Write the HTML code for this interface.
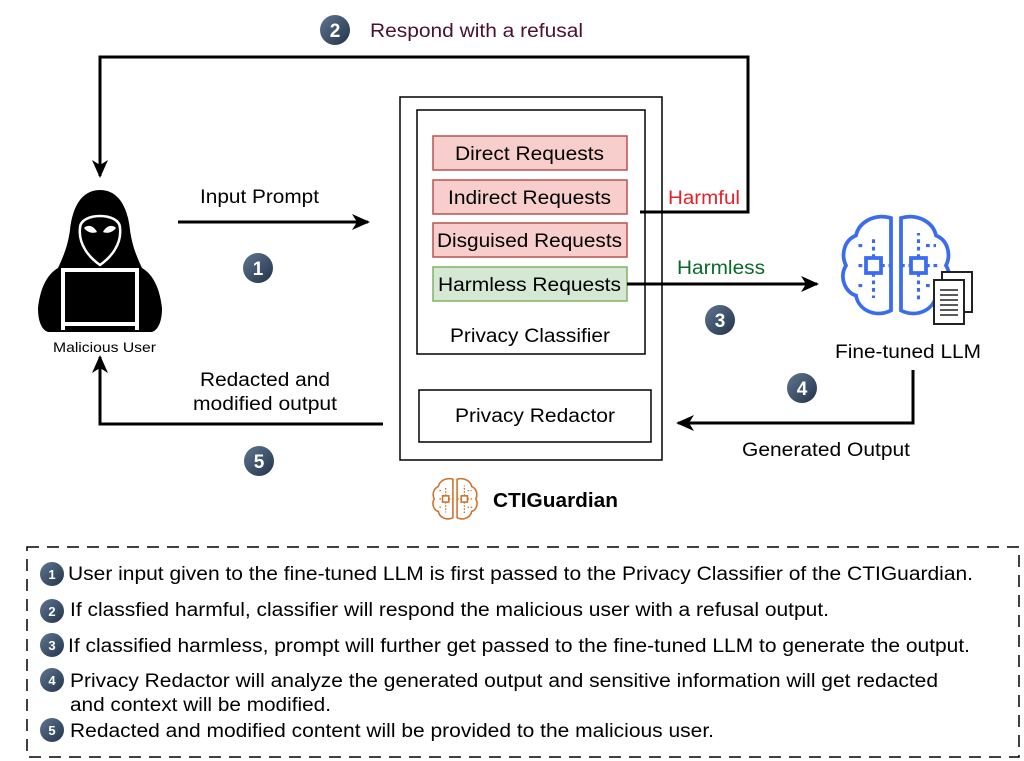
<!DOCTYPE html>
<html><head><meta charset="utf-8"><style>
body{margin:0;background:#fff}
svg{display:block}
text{font-family:"Liberation Sans",Arial,sans-serif}
</style></head><body>
<svg width="1024" height="761" viewBox="0 0 1024 761" xmlns="http://www.w3.org/2000/svg">
<defs>
<linearGradient id="g" x1="0" y1="0" x2="1" y2="1"><stop offset="0" stop-color="#5f7590"/><stop offset="1" stop-color="#22344a"/></linearGradient>
<marker id="a" markerWidth="18" markerHeight="18" refX="16" refY="9" orient="auto" markerUnits="userSpaceOnUse"><path d="M0,1 L18,9 L0,17 L5,9 Z" fill="#000"/></marker>
<g id="brain">
<path d="M-4,-40 C-18,-44 -30,-36 -32,-26 C-42,-22 -44,-10 -40,-2 C-46,8 -40,20 -32,22 C-30,34 -16,40 -4,34 Z" fill="none" stroke-width="3"/>
<path d="M4,-40 C18,-44 30,-36 32,-26 C42,-22 44,-10 40,-2 C46,8 40,20 32,22 C30,34 16,40 4,34 Z" fill="none" stroke-width="3"/>
<rect x="-24" y="-8" width="12" height="12" fill="none" stroke-width="3"/>
<rect x="12" y="-8" width="12" height="12" fill="none" stroke-width="3"/>
<path d="M-30,-2 H-24 M-12,-2 H-4 M-18,-8 V-26 M-18,4 V24 M-30,-18 H-24 M-30,14 H-24 M4,-2 H12 M24,-2 H34 M18,-8 V-28 M18,4 V26 M24,-18 H32 M24,14 H34" stroke-width="2.5" stroke-dasharray="3 3" fill="none"/>
</g>
</defs>

<!-- refusal loop -->
<polyline points="640,212 748,212 748,57 100,57 100,176" fill="none" stroke="#000" stroke-width="3" marker-end="url(#a)"/>
<circle cx="335" cy="30" r="15" fill="url(#g)"/><text x="335" y="37" font-size="19" font-weight="bold" fill="#fff" text-anchor="middle">2</text>
<text x="370" y="37" font-size="19" fill="#4a1030" textLength="213" lengthAdjust="spacingAndGlyphs">Respond with a refusal</text>

<!-- hacker -->
<path d="M100,190 C80,190 72,210 70,230 C68,245 64,255 58,268 C46,275 40,290 38,308 C38,322 42,330 48,332 L152,332 C158,330 162,322 162,308 C160,290 154,275 142,268 C136,255 132,245 130,230 C128,210 120,190 100,190 Z" fill="#000"/>
<path d="M80,228 C80,212 120,212 120,228 C122,245 110,258 100,265 C90,258 78,245 80,228 Z" fill="#000" stroke="#fff" stroke-width="2.5"/>
<path d="M84,228 C88,224 94,226 97,232 C92,234 87,232 84,228 Z M116,228 C112,224 106,226 103,232 C108,234 113,232 116,228 Z" fill="#fff"/>
<rect x="61" y="268" width="78" height="62" fill="#fff"/>
<rect x="65" y="272" width="70" height="50" fill="#000"/>
<rect x="65" y="326" width="70" height="4" fill="#000"/>
<text x="53" y="352" font-size="14" textLength="103" lengthAdjust="spacingAndGlyphs">Malicious User</text>

<!-- input prompt -->
<line x1="178" y1="222" x2="368" y2="222" stroke="#000" stroke-width="3" marker-end="url(#a)"/>
<text x="200" y="203" font-size="19" textLength="119" lengthAdjust="spacingAndGlyphs">Input Prompt</text>
<circle cx="258" cy="268" r="15" fill="url(#g)"/><text x="258" y="275" font-size="19" font-weight="bold" fill="#fff" text-anchor="middle">1</text>

<!-- guardian box -->
<rect x="400" y="97" width="262" height="363" fill="none" stroke="#000" stroke-width="1.5"/>
<rect x="417" y="110" width="228" height="244" fill="none" stroke="#000" stroke-width="1.5"/>
<g font-size="19">
<rect x="433" y="136" width="194" height="34" fill="#f8cecc" stroke="#b85450" stroke-width="1.5"/><text x="455" y="160" textLength="149" lengthAdjust="spacingAndGlyphs">Direct Requests</text>
<rect x="433" y="180" width="194" height="34" fill="#f8cecc" stroke="#b85450" stroke-width="1.5"/><text x="448" y="204" textLength="163" lengthAdjust="spacingAndGlyphs">Indirect Requests</text>
<rect x="433" y="223" width="194" height="34" fill="#f8cecc" stroke="#b85450" stroke-width="1.5"/><text x="437" y="247" textLength="185" lengthAdjust="spacingAndGlyphs">Disguised Requests</text>
<rect x="433" y="267" width="194" height="34" fill="#d5e8d4" stroke="#82b366" stroke-width="1.5"/><text x="438" y="291" textLength="183" lengthAdjust="spacingAndGlyphs">Harmless Requests</text>
<text x="450" y="342" textLength="160" lengthAdjust="spacingAndGlyphs">Privacy Classifier</text>
<rect x="419" y="390" width="232" height="52" fill="none" stroke="#000" stroke-width="1.5"/><text x="455" y="422" textLength="160" lengthAdjust="spacingAndGlyphs">Privacy Redactor</text>
</g>
<text x="668" y="204" font-size="19" fill="#e8202a" textLength="72" lengthAdjust="spacingAndGlyphs">Harmful</text>

<!-- harmless -->
<line x1="627" y1="284" x2="817" y2="284" stroke="#000" stroke-width="3" marker-end="url(#a)"/>
<text x="677" y="274" font-size="19" fill="#0a6a2a" textLength="88" lengthAdjust="spacingAndGlyphs">Harmless</text>
<circle cx="720" cy="320" r="15" fill="url(#g)"/><text x="720" y="327" font-size="19" font-weight="bold" fill="#fff" text-anchor="middle">3</text>

<!-- LLM -->
<g transform="translate(896,268) scale(1.25)" stroke="#3b6cf0"><use href="#brain"/></g>
<rect x="942" y="272" width="30" height="40" fill="#fff" stroke="#222" stroke-width="2"/>
<rect x="934" y="280" width="30" height="44" fill="#fff" stroke="#222" stroke-width="2"/>
<path d="M940,290h18M940,295h18M940,300h18M940,305h18M940,310h18M940,315h18" stroke="#222" stroke-width="1.5"/>
<text x="835" y="358" font-size="19" textLength="146" lengthAdjust="spacingAndGlyphs">Fine-tuned LLM</text>

<circle cx="802" cy="388" r="15" fill="url(#g)"/><text x="802" y="395" font-size="19" font-weight="bold" fill="#fff" text-anchor="middle">4</text>
<polyline points="913,370 913,423 678,423" fill="none" stroke="#000" stroke-width="3" marker-end="url(#a)"/>
<text x="742" y="456" font-size="19" textLength="168" lengthAdjust="spacingAndGlyphs">Generated Output</text>

<!-- redacted -->
<polyline points="383,424 100,424 100,357" fill="none" stroke="#000" stroke-width="3" marker-end="url(#a)"/>
<text x="200" y="386" font-size="19" textLength="130" lengthAdjust="spacingAndGlyphs">Redacted and</text>
<text x="193" y="410" font-size="19" textLength="144" lengthAdjust="spacingAndGlyphs">modified output</text>
<circle cx="259" cy="461" r="15" fill="url(#g)"/><text x="259" y="468" font-size="19" font-weight="bold" fill="#fff" text-anchor="middle">5</text>

<!-- CTIGuardian -->
<g transform="translate(455,500) scale(0.52)" stroke="#d0702a"><use href="#brain"/></g>
<text x="493" y="507" font-size="20" font-weight="bold" textLength="125" lengthAdjust="spacingAndGlyphs">CTIGuardian</text>

<!-- legend -->
<rect x="27" y="547" width="992" height="210" fill="none" stroke="#000" stroke-width="1.5" stroke-dasharray="12 8"/>
<g font-size="19">
<circle cx="52" cy="574" r="12" fill="url(#g)"/><text x="52" y="579" font-size="13" font-weight="bold" fill="#fff" text-anchor="middle">1</text>
<text x="68" y="580" textLength="905" lengthAdjust="spacingAndGlyphs">User input given to the fine-tuned LLM is first passed to the Privacy Classifier of the CTIGuardian.</text>
<circle cx="52" cy="611" r="12" fill="url(#g)"/><text x="52" y="616" font-size="13" font-weight="bold" fill="#fff" text-anchor="middle">2</text>
<text x="70" y="616" textLength="759" lengthAdjust="spacingAndGlyphs">If classfied harmful, classifier will respond the malicious user with a refusal output.</text>
<circle cx="52" cy="645" r="12" fill="url(#g)"/><text x="52" y="650" font-size="13" font-weight="bold" fill="#fff" text-anchor="middle">3</text>
<text x="68" y="652" textLength="902" lengthAdjust="spacingAndGlyphs">If classified harmless, prompt will further get passed to the fine-tuned LLM to generate the output.</text>
<circle cx="52" cy="680" r="12" fill="url(#g)"/><text x="52" y="685" font-size="13" font-weight="bold" fill="#fff" text-anchor="middle">4</text>
<text x="70" y="687" textLength="868" lengthAdjust="spacingAndGlyphs">Privacy Redactor will analyze the generated output and sensitive information will get redacted</text>
<text x="70" y="711" textLength="261" lengthAdjust="spacingAndGlyphs">and context will be modified.</text>
<circle cx="52" cy="730" r="12" fill="url(#g)"/><text x="52" y="735" font-size="13" font-weight="bold" fill="#fff" text-anchor="middle">5</text>
<text x="70" y="737" textLength="644" lengthAdjust="spacingAndGlyphs">Redacted and modified content will be provided to the malicious user.</text>
</g>
</svg>
</body></html>
